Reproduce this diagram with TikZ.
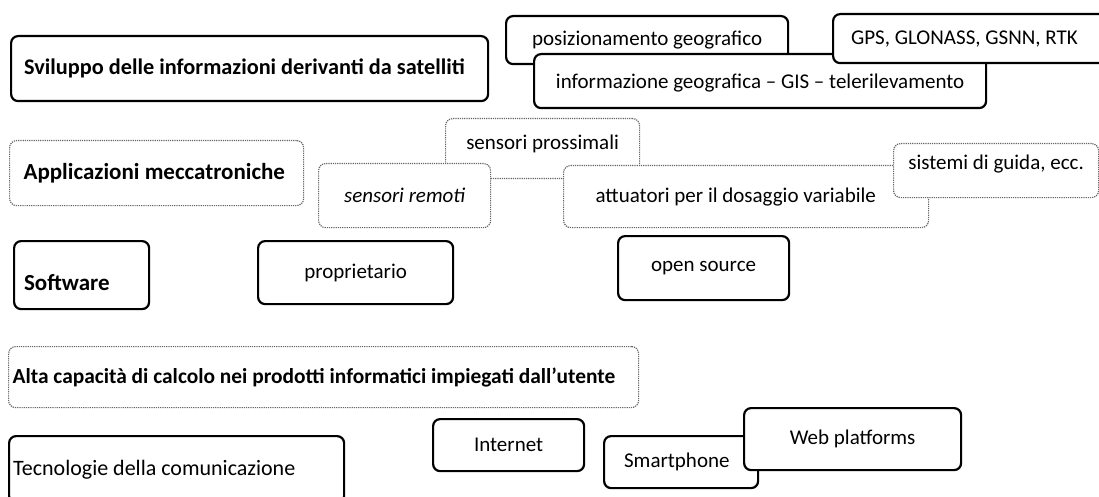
\documentclass[tikz,border=0pt]{standalone}
\usepackage{fontspec}
\setmainfont{Carlito}
\newcommand{\vmove}[2]{\raisebox{#1}[\height][\depth]{#2}}
\begin{document}
\begin{tikzpicture}[x=1pt,y=-1pt]
\tikzset{
  base/.style={rounded corners=7pt, fill=white, anchor=north west, inner ysep=0pt,
    font=\fontsize{21}{24}\selectfont},
  solidbox/.style={base, draw=black, line width=2.2pt},
  greybox/.style={base, draw=black!60, line width=1.2pt, densely dotted},
  catfont/.style={font=\fontsize{#1}{26}\selectfont\bfseries},
  lbox/.style 2 args={minimum height=#1pt, align=flush left, text width=#2pt},
  cbox/.style 2 args={minimum width=#1pt, minimum height=#2pt, inner xsep=0pt, align=center},
}
\useasboundingbox (0,0) rectangle (1099,497);
\clip (0,0) rectangle (1099,497);
\fill[white] (0,0) rectangle (1099,497);

% Row 1
\node[solidbox, catfont=22.3, lbox={65}{451}, inner xsep=13pt] (svil) at (10,35)
  {\mbox{Sviluppo delle informazioni derivanti da satelliti}};
\node[solidbox, cbox={282}{48}] (pos) at (505,15)
  {\mbox{posizionamento geografico}};
\node[solidbox, cbox={452}{54}] (gis) at (533,53)
  {\vmove{-2pt}{\mbox{informazione geografica -- GIS -- telerilevamento}}};
\node[solidbox, lbox={49}{284}, inner xsep=18pt] (gps) at (832,13)
  {\mbox{GPS, GLONASS, GSNN, RTK}};

% Row 2
\node[greybox, catfont=23, lbox={65}{266}, inner xsep=14pt] (mec) at (9,140)
  {\mbox{Applicazioni meccatroniche}};
\node[greybox, cbox={194}{60}] (pross) at (445,118)
  {\vmove{5pt}{sensori prossimali}};
\node[greybox, cbox={172}{64}] (rem) at (318,163)
  {\itshape sensori remoti};
\node[greybox, lbox={62}{301}, inner xsep=32pt] (att) at (563,165)
  {\mbox{attuatori per il dosaggio variabile}};
\node[greybox, cbox={205}{54}] (guida) at (893,143)
  {\vmove{7pt}{sistemi di guida, ecc.}};

% Row 3
\node[solidbox, catfont=23, lbox={68}{115}, inner xsep=10pt] (soft) at (13,240)
  {\vmove{-7pt}{Software}};
\node[solidbox, cbox={195}{63}] (prop) at (257,240) {proprietario};
\node[solidbox, cbox={171}{64}] (open) at (617,235) {open source};

% Row 4
\node[greybox, catfont=21.4, lbox={61}{622}, inner xsep=4pt] (calc) at (8,346)
  {\mbox{Alta capacità di calcolo nei prodotti informatici impiegati dall’utente}};

% Row 5
\node[solidbox, font=\fontsize{22}{26}\selectfont, lbox={67}{327}, inner xsep=4pt] (tec) at (8,435)
  {\mbox{Tecnologie della comunicazione}};
\node[solidbox, cbox={151}{52}] (int) at (432,418) {Internet};
\node[solidbox, lbox={52}{114}, inner xsep=20pt] (smart) at (603,435) {\mbox{Smartphone}};
\node[solidbox, cbox={217}{62}] (web) at (743,407) {Web platforms};
\end{tikzpicture}
\end{document}
